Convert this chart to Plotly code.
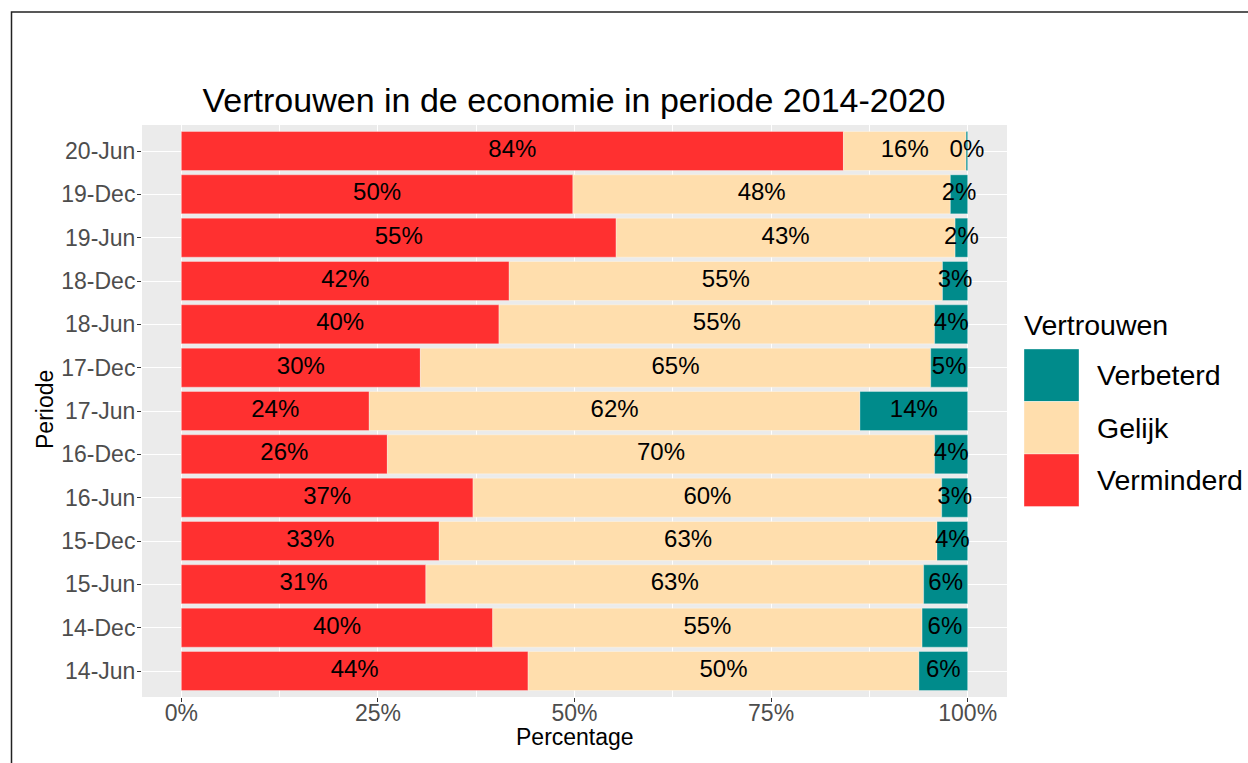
import plotly.graph_objects as go

# ---- data ----
periods = ["14-Jun", "14-Dec", "15-Jun", "15-Dec", "16-Jun", "16-Dec", "17-Jun",
           "17-Dec", "18-Jun", "18-Dec", "19-Jun", "19-Dec", "20-Jun"]
verminderd = [44.1, 39.6, 31.1, 32.8, 37.1, 26.2, 23.9, 30.4, 40.4, 41.7, 55.3, 49.8, 84.2]
gelijk = [49.7, 54.6, 63.3, 63.3, 59.6, 69.6, 62.4, 64.9, 55.4, 55.1, 43.1, 48.0, 15.6]
verbeterd = [6.2, 5.8, 5.6, 3.9, 3.3, 4.2, 13.7, 4.7, 4.2, 3.2, 1.6, 2.2, 0.2]
x_ticks = [0, 25, 50, 75, 100]
x_ticklabels = ["0%", "25%", "50%", "75%", "100%"]
legend_order = ["Verbeterd", "Gelijk", "Verminderd"]

colors = {"Verminderd": "#FF3030", "Gelijk": "#FFDEAD", "Verbeterd": "#008B8B"}
FONT = "Liberation Sans, Arial, sans-serif"

W, H = 1248, 763
L, R, T, B = 142, 241, 125, 66
PW, PH = W - L - R, H - T - B


def px_x(px):
    return (px - L) / PW


def px_y(py):
    return (H - B - py) / PH


series = [("Verminderd", verminderd), ("Gelijk", gelijk), ("Verbeterd", verbeterd)]

fig = go.Figure()
base = [0.0] * len(periods)
label_x, label_y, label_t = [], [], []
for name, vals in series:
    fig.add_trace(go.Bar(
        y=periods, x=vals, base=base, orientation="h", name=name,
        marker=dict(color=colors[name], line=dict(color="rgba(255,255,255,0.55)", width=0.6)),
        width=0.9, showlegend=False, hoverinfo="x+y+name",
    ))
    for i, v in enumerate(vals):
        label_x.append(base[i] + v / 2)
        label_y.append(periods[i])
        label_t.append(f"{v:.0f}%")
    base = [b + v for b, v in zip(base, vals)]

fig.add_trace(go.Scatter(
    x=label_x, y=label_y, text=label_t, mode="text",
    textfont=dict(family=FONT, size=24, color="black"),
    showlegend=False, hoverinfo="skip",
))

shapes = []
annotations = []

# custom legend (ggplot-like big keys)
key_top = 349
key_h = 52.5
for i, name in enumerate(legend_order):
    y0 = key_top + i * key_h
    y1 = y0 + key_h
    shapes.append(dict(type="rect", xref="paper", yref="paper",
                       x0=px_x(1024), x1=px_x(1079), y0=px_y(y1), y1=px_y(y0),
                       fillcolor=colors[name], line=dict(color="rgba(255,255,255,0.6)", width=0.6)))
    annotations.append(dict(text=name, xref="paper", yref="paper", x=px_x(1095),
                            y=px_y((y0 + y1) / 2), xanchor="left", yanchor="middle",
                            showarrow=False, font=dict(family=FONT, size=28.5, color="black")))
annotations.append(dict(text="Vertrouwen", xref="paper", yref="paper", x=px_x(1022),
                        y=px_y(325), xanchor="left", yanchor="middle", showarrow=False,
                        font=dict(family=FONT, size=28.5, color="black")))

# axis titles
annotations.append(dict(text="Percentage", xref="paper", yref="paper", x=px_x(575),
                        y=px_y(737), xanchor="center", yanchor="middle", showarrow=False,
                        font=dict(family=FONT, size=23, color="black")))
annotations.append(dict(text="Periode", xref="paper", yref="paper", x=px_x(45),
                        y=px_y(410), xanchor="center", yanchor="middle", showarrow=False,
                        textangle=-90, font=dict(family=FONT, size=23, color="black")))

# outer frame of the picture
shapes.append(dict(type="rect", xref="paper", yref="paper",
                   x0=px_x(11.5), x1=px_x(1300), y0=px_y(820), y1=px_y(12),
                   line=dict(color="#222222", width=1.5), fillcolor="rgba(0,0,0,0)", layer="above"))

fig.update_layout(
    width=W, height=H,
    margin=dict(l=L, r=R, t=T, b=B),
    paper_bgcolor="white", plot_bgcolor="#EBEBEB",
    barmode="overlay", bargap=0.1,
    font=dict(family=FONT),
    title=dict(text="Vertrouwen in de economie in periode 2014-2020",
               x=px_x(574), xref="paper", xanchor="center",
               y=1 - 100 / H, yref="container", yanchor="middle",
               font=dict(family=FONT, size=34, color="black")),
    shapes=shapes, annotations=annotations,
    xaxis=dict(range=[-5, 105], tickvals=x_ticks, ticktext=x_ticklabels,
               showgrid=True, gridcolor="white", gridwidth=1.2, zeroline=False,
               ticks="outside", ticklen=4, tickcolor="#333333", tickwidth=1,
               tickfont=dict(family=FONT, size=23, color="#4D4D4D"),
               ticklabelstandoff=-9,
               minor=dict(tickvals=[12.5, 37.5, 62.5, 87.5], showgrid=True,
                          gridcolor="white", gridwidth=0.6, ticks=""),
               showline=False, fixedrange=True),
    yaxis=dict(categoryorder="array", categoryarray=periods, range=[-0.6, 12.6],
               showgrid=True, gridcolor="white", gridwidth=1.2, zeroline=False,
               ticks="outside", ticklen=4, tickcolor="#333333", tickwidth=1,
               tickfont=dict(family=FONT, size=23, color="#4D4D4D"),
               ticklabelstandoff=-3,
               showline=False, fixedrange=True),
)

fig.write_html("out.html", config={"displayModeBar": False},
               post_script="document.body.style.margin='0';document.body.style.overflow='hidden';")
